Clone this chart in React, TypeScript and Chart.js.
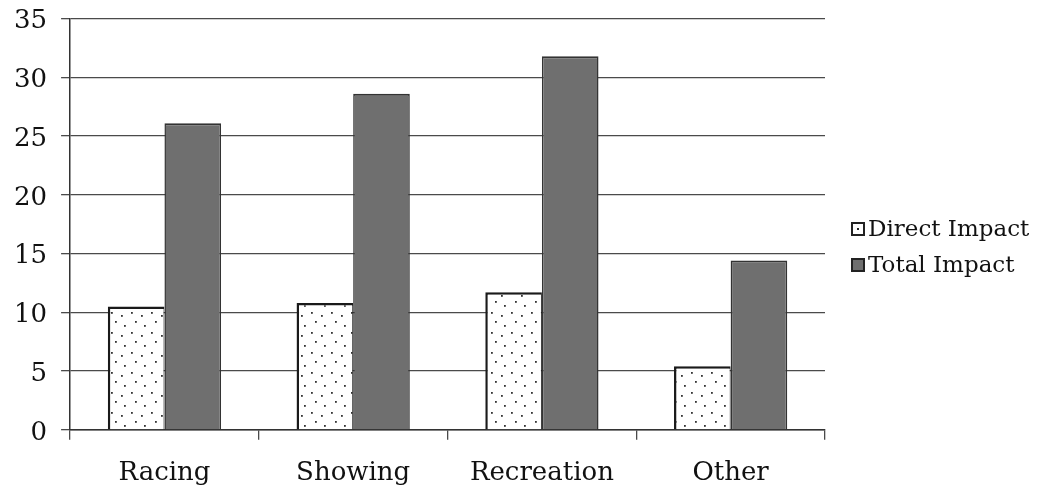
import React, { useEffect, useRef } from "react";
import { Chart, registerables } from "chart.js";

Chart.register(...registerables);

// Economic impact by segment
const categories = ["Racing", "Showing", "Recreation", "Other"];
const directImpact = [10.5, 10.8, 11.7, 5.4];
const totalImpact = [26.1, 28.6, 31.8, 14.4];
const seriesNames = ["Direct Impact", "Total Impact"];
const yMin = 0;
const yMax = 35;
const yStep = 5;

const FONT = "'DejaVu Serif', 'Liberation Serif', serif";
const INK = "#111";
const GRID = "#4a4a4a";
const TOTAL_FILL = "#6f6f6f";
const SHIFT = 19; // canvas is drawn slightly above its box to tighten the top margin

function makeDotPattern(ctx: CanvasRenderingContext2D): CanvasPattern | string {
  const tile = document.createElement("canvas");
  tile.width = 20;
  tile.height = 20;
  const g = tile.getContext("2d");
  if (!g) return "#fff";
  g.fillStyle = "#fff";
  g.fillRect(0, 0, 20, 20);
  g.fillStyle = "#333";
  const dots = [
    [3, 3],
    [13, 6],
    [7, 12],
    [16, 16],
  ];
  for (const [x, y] of dots) g.fillRect(x, y, 1.8, 1.8);
  return ctx.createPattern(tile, "repeat") || "#fff";
}

// Legend drawn to the right of the plot area
const sideLegend = {
  id: "sideLegend",
  afterDraw(chart: Chart) {
    const { ctx, chartArea } = chart;
    const x = chartArea.right + 27;
    const rows = [221 + SHIFT, 257 + SHIFT];
    ctx.save();
    ctx.font = `23px ${FONT}`;
    ctx.textBaseline = "middle";
    seriesNames.forEach((name, i) => {
      const cy = rows[i];
      const s = 12;
      ctx.lineWidth = 2;
      ctx.strokeStyle = "#222";
      if (i === 0) {
        ctx.fillStyle = "#fff";
        ctx.fillRect(x, cy - s / 2, s, s);
        ctx.strokeRect(x, cy - s / 2, s, s);
        ctx.fillStyle = "#222";
        ctx.fillRect(x + s / 2 - 1, cy - 1, 2, 2);
      } else {
        ctx.fillStyle = TOTAL_FILL;
        ctx.fillRect(x, cy - s / 2, s, s);
        ctx.strokeRect(x, cy - s / 2, s, s);
      }
      ctx.fillStyle = INK;
      ctx.fillText(name, x + s + 4, cy + 1);
    });
    ctx.restore();
  },
};

export default function App() {
  const canvasRef = useRef<HTMLCanvasElement | null>(null);

  useEffect(() => {
    document.documentElement.style.overflow = "hidden";
    const canvas = canvasRef.current;
    if (!canvas) return;
    const ctx = canvas.getContext("2d");
    if (!ctx) return;
    const dots = makeDotPattern(ctx);

    const chart = new Chart(canvas, {
      type: "bar",
      data: {
        labels: categories,
        datasets: [
          {
            label: seriesNames[0],
            data: directImpact,
            backgroundColor: dots as any,
            borderColor: "#1a1a1a",
            borderWidth: { top: 2.5, left: 2.5, right: 1, bottom: 0 },
            borderSkipped: false,
          },
          {
            label: seriesNames[1],
            data: totalImpact,
            backgroundColor: TOTAL_FILL,
            borderColor: "#333",
            borderWidth: { top: 2, left: 1.5, right: 1.5, bottom: 0 },
            borderSkipped: false,
          },
        ],
      },
      options: {
        responsive: false,
        animation: false,
        layout: { autoPadding: false, padding: { left: -8, right: 217, top: -8, bottom: -16 } },
        datasets: {
          bar: { categoryPercentage: 0.6, barPercentage: 1.0 },
        },
        plugins: {
          legend: { display: false },
          tooltip: { enabled: false },
          title: { display: false },
        },
        scales: {
          x: {
            grid: {
              display: true,
              drawOnChartArea: false,
              drawTicks: true,
              tickLength: 10,
              color: GRID,
              lineWidth: 1.3,
            },
            border: { display: true, color: "#333", width: 1.5 },
            ticks: {
              color: INK,
              font: { family: FONT, size: 26 },
              padding: 18,
            },
          },
          y: {
            min: yMin,
            max: yMax,
            ticks: {
              stepSize: yStep,
              color: INK,
              font: { family: FONT, size: 26 },
              padding: 14,
              labelOffset: 3,
            },
            grid: {
              color: GRID,
              lineWidth: 1.3,
              drawTicks: true,
              tickLength: 9,
            },
            border: { display: true, color: "#333", width: 1.5 },
          },
        },
      },
      plugins: [sideLegend],
    });

    return () => chart.destroy();
  }, []);

  return (
    <div style={{ position: "relative", width: 1034, height: 483 }}>
      <canvas
        ref={canvasRef}
        width={1034}
        height={483 + SHIFT}
        style={{ display: "block", position: "absolute", left: 0, top: -SHIFT }}
      />
    </div>
  );
}
